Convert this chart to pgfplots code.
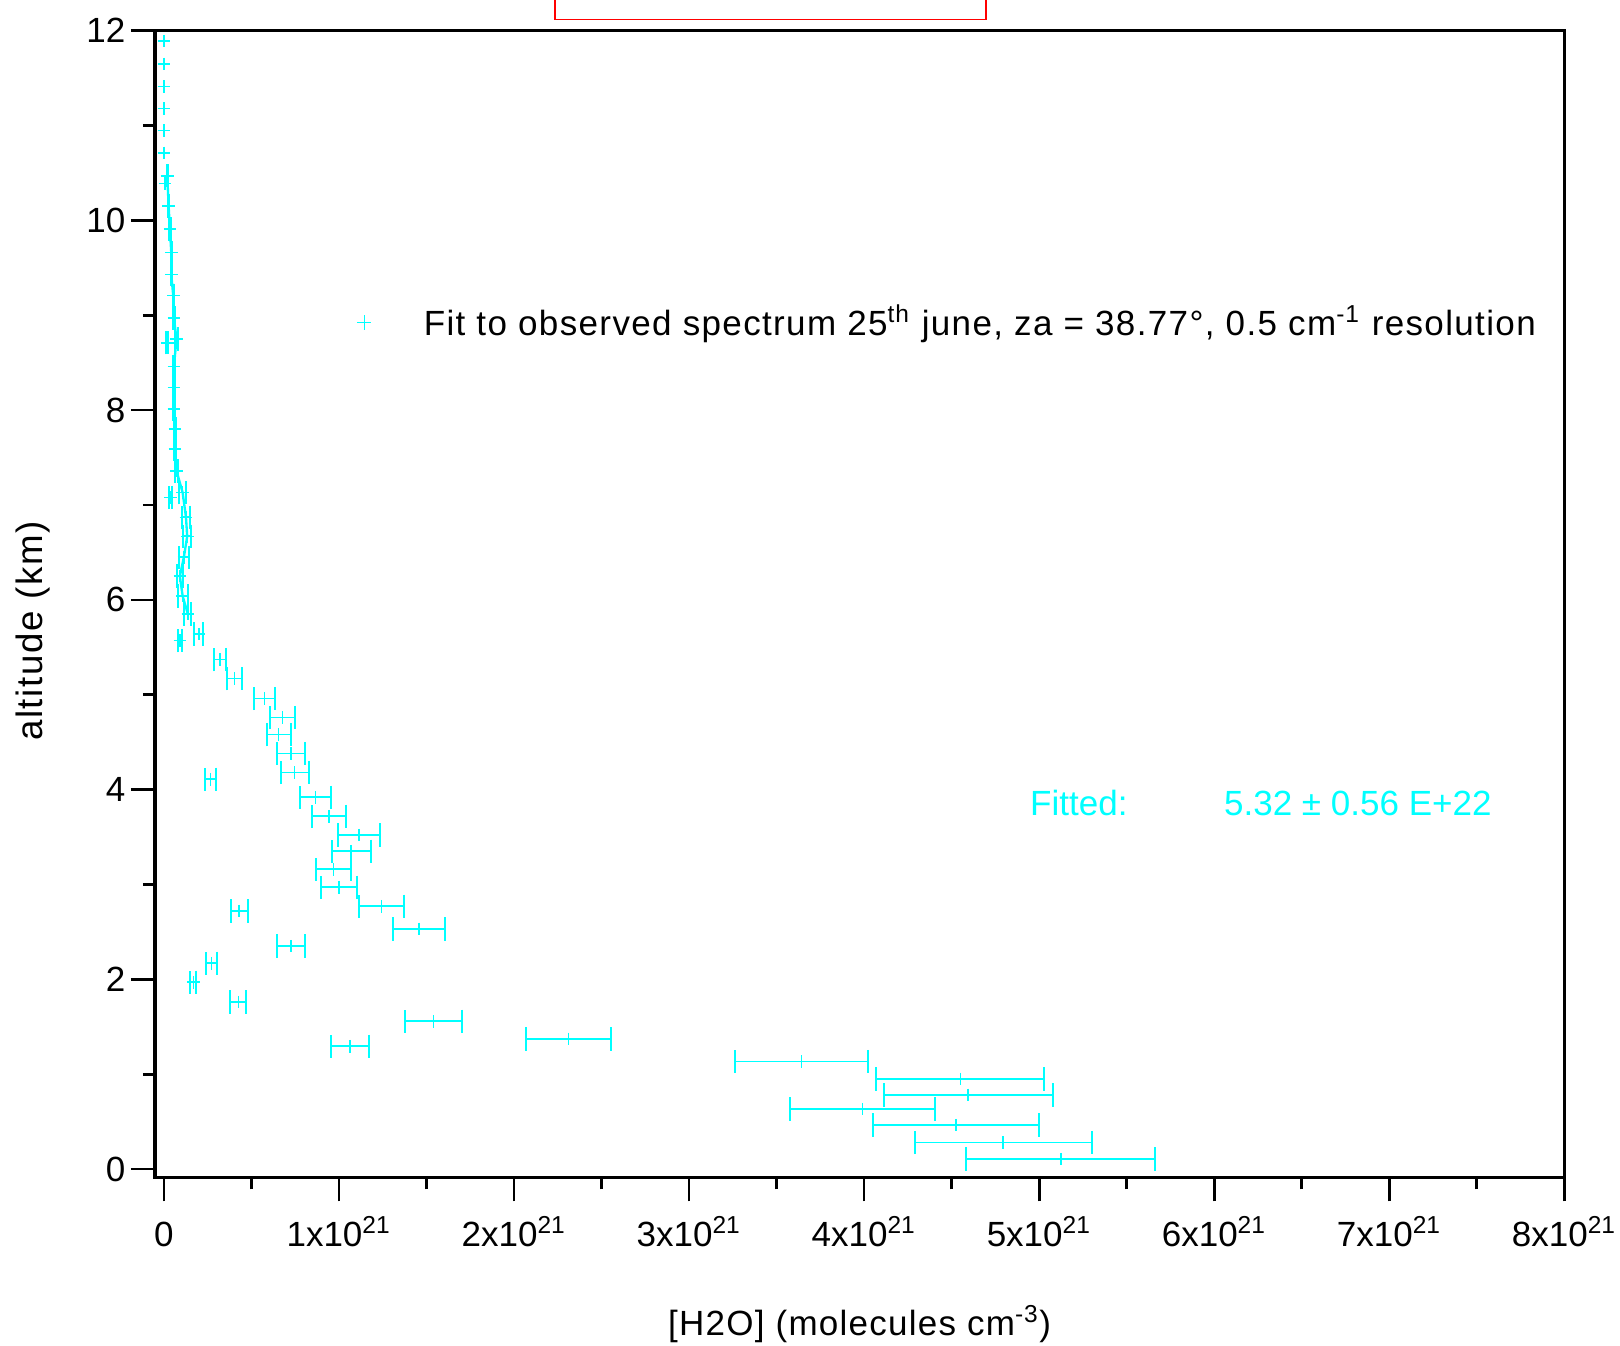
\documentclass[border=0pt]{standalone}
\usepackage{fontspec}
\setmainfont{Liberation Sans}
\usepackage{pgfplots}
\usepackage{pgfplotstable}
\pgfplotsset{compat=1.18}
\usetikzlibrary{calc}
\definecolor{cy}{RGB}{0,255,255}
\newcommand\f{\fontsize{10.5pt}{12.6pt}\selectfont}

\pgfplotstableread{
x y
0.0 11.89
0.0 11.65
0.0 11.41
0.0 11.18
0.0 10.95
0.0 10.71
0.006 10.39
}\toppts

\pgfplotstableread{
x y
0.019 10.55
0.019 10.47
0.027 10.15
0.034 9.91
0.042 9.66
0.042 9.43
0.053 9.21
0.057 8.97
0.072 8.75
0.057 8.46
0.057 8.24
0.057 8.01
0.063 7.80
0.063 7.59
0.072 7.36
0.107 7.13
0.126 6.87
0.133 6.67
0.114 6.45
0.091 6.25
0.107 6.04
0.137 5.85
}\branch

\pgfplotstableread{
x y ex
0.019 10.47 0.004
0.027 10.15 0.004
0.034 9.91 0.004
0.042 9.66 0.004
0.042 9.43 0.004
0.053 9.21 0.004
0.057 8.97 0.004
0.072 8.75 0.006
0.019 8.71 0.006
0.057 8.46 0.005
0.057 8.24 0.005
0.057 8.01 0.005
0.063 7.80 0.005
0.063 7.59 0.005
0.072 7.36 0.006
0.107 7.13 0.019
0.038 7.08 0.008
0.126 6.87 0.025
0.133 6.67 0.024
0.114 6.45 0.028
0.091 6.25 0.019
0.107 6.04 0.028
0.137 5.85 0.020
0.200 5.64 0.026
0.091 5.57 0.013
0.320 5.37 0.033
0.404 5.17 0.044
0.575 4.96 0.061
0.676 4.76 0.072
0.655 4.58 0.069
0.726 4.38 0.080
0.747 4.18 0.079
0.267 4.11 0.030
0.865 3.92 0.090
0.943 3.72 0.097
1.114 3.52 0.119
1.070 3.35 0.111
0.970 3.16 0.101
1.000 2.97 0.105
1.242 2.77 0.129
0.430 2.72 0.048
1.457 2.53 0.150
0.726 2.35 0.080
0.272 2.17 0.030
0.168 1.97 0.018
0.425 1.76 0.045
1.541 1.558 0.162
2.310 1.372 0.243
1.063 1.295 0.111
3.642 1.134 0.380
4.550 0.951 0.480
4.594 0.782 0.483
3.990 0.632 0.415
4.524 0.463 0.473
4.794 0.281 0.505
5.124 0.105 0.540
}\errpts

\begin{document}
\begin{tikzpicture}
\begin{axis}[
  scale only axis, width=422.8pt, height=344pt,
  xmin=-0.051, xmax=8, ymin=-0.087, ymax=12,
  axis line style={line width=1pt},
  tick align=outside, xtick pos=bottom, ytick pos=left,
  major tick length=7.2pt, minor tick length=3.6pt,
  every tick/.style={black, line width=0.8pt},
  xtick={0,1,...,8},
  xticklabels={{0},{1x10\textsuperscript{21}},{2x10\textsuperscript{21}},{3x10\textsuperscript{21}},{4x10\textsuperscript{21}},{5x10\textsuperscript{21}},{6x10\textsuperscript{21}},{7x10\textsuperscript{21}},{8x10\textsuperscript{21}}},
  minor x tick num=1,
  ytick={0,2,...,12}, minor y tick num=1,
  /pgf/number format/assume math mode=true,
  xticklabel style={font=\f, anchor=base, yshift=-13.6pt, inner sep=0pt},
  yticklabel style={font=\f, anchor=east, xshift=-1.5pt, inner sep=0pt},
  xlabel={[H2O] (molecules cm\textsuperscript{-3})},
  ylabel={altitude (km)},
  xlabel style={font={\f\addfontfeatures{LetterSpace=3.6}}, at={(axis description cs:0.5,-0.1378)}, anchor=base},
  ylabel style={font={\fontsize{11pt}{13pt}\selectfont\addfontfeatures{LetterSpace=4.5}}, at={(axis description cs:-0.0866,0.4765)}, anchor=center},
  legend style={draw=none, fill=none, font={\f\addfontfeatures{LetterSpace=3.9}}, at={(axis cs:1.041,8.925)}, anchor=west},
  legend image code/.code={\draw[cy, mark=+, mark size=2.2pt, line width=0.35pt] plot coordinates {(0.3cm,0cm)}; \path[draw=none] (0.3cm,0cm) -- ++(15.9pt,0pt);},
  clip=false,
]
\addplot[cy, only marks, mark=+, mark size=1.9pt, line width=0.45pt,
  error bars/.cd, x dir=both, x explicit, error mark=|,
  error bar style={line width=0.5pt},
  error mark options={line width=0.6pt, mark size=3.5pt}]
  table[x=x, y=y, x error=ex]{\errpts};
\addlegendentry{Fit to observed spectrum 25\textsuperscript{th} june, za = 38.77°, 0.5 cm\textsuperscript{-1} resolution}
\addplot[cy, only marks, mark=+, mark size=1.9pt, line width=0.45pt, forget plot] table[x=x, y=y]{\toppts};
\addplot[cy, line width=0.7pt, forget plot] table[x=x, y=y]{\branch};
\node[anchor=base west, text=cy, font=\f, inner sep=0pt] at (axis cs:4.945,3.727) {Fitted:};
\node[anchor=base west, text=cy, font=\f, inner sep=0pt] at (axis cs:6.053,3.727) {5.32 ± 0.56 E+22};
\draw[red, line width=0.45pt] (axis cs:2.234,12.6) |- (axis cs:4.696,12.117) -- (axis cs:4.696,12.6);
\coordinate (ll) at (rel axis cs:0,0);
\coordinate (ur) at (rel axis cs:1,1);
\end{axis}
\pgfresetboundingbox
\path[use as bounding box] ($(ll)+(-46.5pt,-50.3pt)$) rectangle ($(ur)+(16.7pt,9.2pt)$);
\end{tikzpicture}
\end{document}
